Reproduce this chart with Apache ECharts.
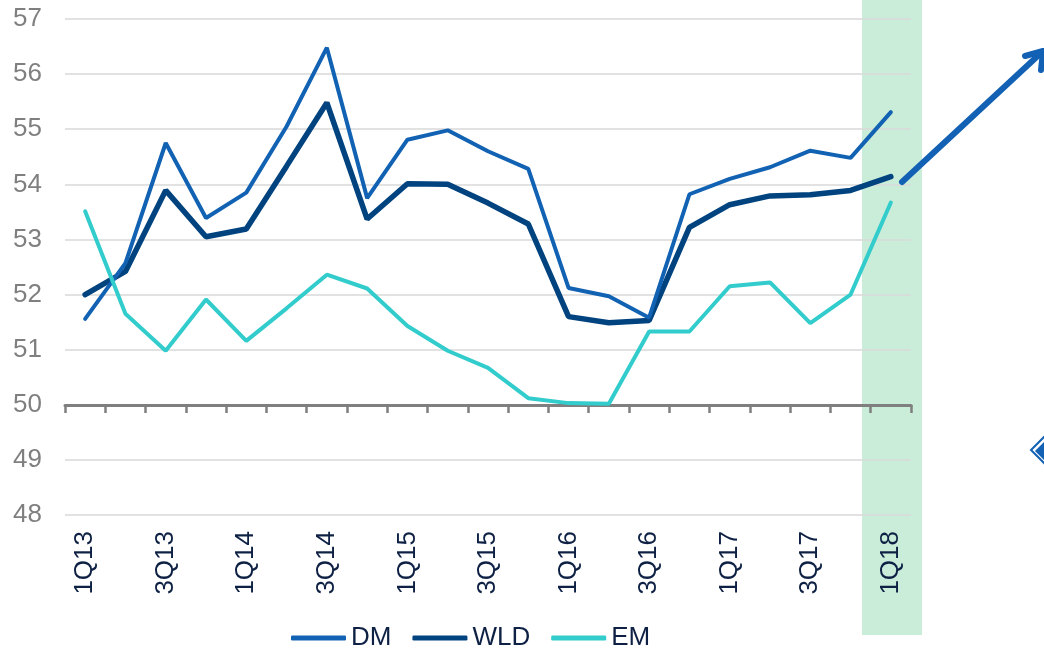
<!DOCTYPE html>
<html>
<head>
<meta charset="utf-8">
<script src="https://cdn.jsdelivr.net/npm/echarts@6/dist/echarts.min.js"></script>
<style>
  html, body { margin: 0; padding: 0; background: #fff; }
  #chart { width: 1044px; height: 648px; }
</style>
</head>
<body>
<div id="chart"></div>
<script>
// quarters, 1Q13 .. 1Q18
var quarters = ['1Q13', '2Q13', '3Q13', '4Q13', '1Q14', '2Q14', '3Q14', '4Q14', '1Q15', '2Q15', '3Q15',
    '4Q15', '1Q16', '2Q16', '3Q16', '4Q16', '1Q17', '2Q17', '3Q17', '4Q17', '1Q18'];

var dmValues = [51.56, 52.57, 54.75, 53.39, 53.85, 55.05, 56.48, 53.75, 54.81, 54.98, 54.6,
    54.28, 52.12, 51.97, 51.58, 53.82, 54.1, 54.31, 54.61, 54.48, 55.31];
var wldValues = [52.0, 52.42, 53.89, 53.05, 53.19, 54.33, 55.48, 53.37, 54.01, 54.0, 53.66,
    53.28, 51.6, 51.49, 51.53, 53.22, 53.63, 53.79, 53.81, 53.89, 54.14];
var emValues = [53.51, 51.65, 50.98, 51.91, 51.16, 51.75, 52.36, 52.11, 51.43, 50.98, 50.67,
    50.12, 50.03, 50.02, 51.33, 51.33, 52.15, 52.22, 51.48, 52.0, 53.67];

var yMin = 48, yMax = 57, yStep = 1;

var font = '"Liberation Sans", Arial, sans-serif';
var navy = '#0e2144';
var arrowBlue = '#1261b4';

var chart = echarts.init(document.getElementById('chart'));

chart.setOption({
    animation: false,
    textStyle: { fontFamily: font },
    grid: [
        { left: 65, right: 133, top: 19, bottom: 133 },
        // second grid only carries the axis line crossing at 50
        { left: 65, right: 133, top: 19, bottom: 243 }
    ],
    legend: {
        left: 286,
        top: 620,
        icon: 'roundRect',
        itemWidth: 55,
        itemHeight: 5,
        itemGap: 21,
        data: ['DM', 'WLD', 'EM'],
        textStyle: { fontSize: 26, color: navy, fontFamily: font }
    },
    xAxis: [
        {
            type: 'category',
            gridIndex: 0,
            data: quarters,
            boundaryGap: true,
            axisLine: { show: false },
            axisTick: { show: false },
            axisLabel: {
                rotate: 90,
                interval: 1,
                margin: 16,
                fontSize: 26,
                color: navy,
                fontFamily: font
            }
        },
        {
            type: 'category',
            gridIndex: 1,
            data: quarters,
            boundaryGap: true,
            axisLine: { show: true, lineStyle: { color: '#7f7f7f', width: 3 } },
            axisTick: { show: true, interval: 0, length: 8, lineStyle: { color: '#7f7f7f', width: 2.5 } },
            axisLabel: { show: false }
        }
    ],
    yAxis: [
        {
            type: 'value',
            gridIndex: 0,
            min: yMin,
            max: yMax,
            interval: yStep,
            axisLine: { show: false },
            axisTick: { show: false },
            axisLabel: { fontSize: 26, color: '#7f7f7f', margin: 23, fontFamily: font },
            splitLine: { lineStyle: { color: '#d9d9d9', width: 1.5 } }
        },
        {
            type: 'value',
            gridIndex: 1,
            min: 0,
            max: 1,
            show: false,
            splitLine: { show: false }
        }
    ],
    series: [
        {
            name: 'WLD',
            type: 'line',
            data: wldValues,
            showSymbol: false,
            color: '#00437f',
            lineStyle: { width: 5.5, color: '#00437f', cap: 'round' },
            z: 3
        },
        {
            name: 'DM',
            type: 'line',
            data: dmValues,
            showSymbol: false,
            color: '#1262b3',
            lineStyle: { width: 4, color: '#1262b3', cap: 'round' },
            z: 4
        },
        {
            name: 'EM',
            type: 'line',
            data: emValues,
            showSymbol: false,
            color: '#33cccc',
            lineStyle: { width: 4, color: '#33cccc', cap: 'round' },
            z: 5
        }
    ],
    graphic: [
        // highlighted latest quarter band
        {
            type: 'rect',
            z: -1,
            silent: true,
            shape: { x: 862, y: 0, width: 60, height: 635 },
            style: { fill: '#c9edd9' }
        },
        // trend arrow
        {
            type: 'polyline',
            z: 100,
            shape: { points: [[902, 182], [1042, 52]] },
            style: { stroke: arrowBlue, lineWidth: 6, lineCap: 'round' }
        },
        {
            type: 'polyline',
            z: 100,
            shape: { points: [[1025, 56], [1043, 51], [1041, 70]] },
            style: { stroke: arrowBlue, lineWidth: 6, lineCap: 'round', lineJoin: 'round', fill: null }
        },
        // cut-off diamond icon at right edge
        {
            type: 'polyline',
            z: 100,
            shape: { points: [[1045, 436], [1031, 450], [1045, 464]] },
            style: { stroke: arrowBlue, lineWidth: 2, fill: null }
        },
        {
            type: 'polygon',
            z: 100,
            shape: { points: [[1045, 441], [1035, 451], [1045, 461]] },
            style: { fill: arrowBlue }
        }
    ]
});
</script>
</body>
</html>
